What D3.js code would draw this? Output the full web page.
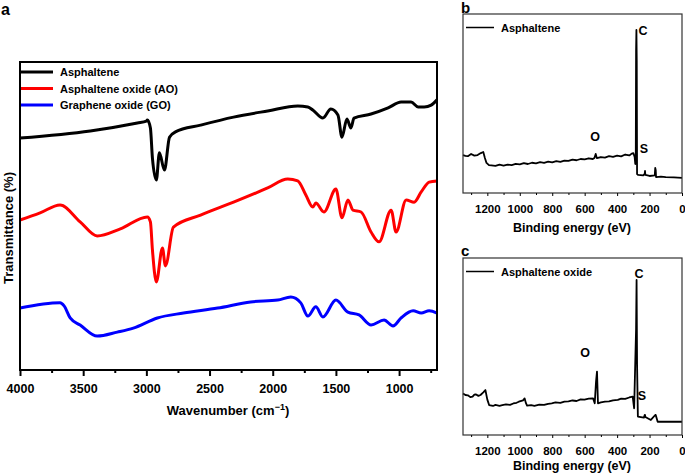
<!DOCTYPE html>
<html><head><meta charset="utf-8">
<script src="https://cdn.jsdelivr.net/npm/d3@7"></script>
<style>
body{margin:0;background:#fff;}
text{font-family:"Liberation Sans",Arial,Helvetica,sans-serif;font-weight:bold;fill:#000;}
</style></head>
<body><svg id="c" width="685" height="473"></svg>
<script>
// ---------- Panel a: FTIR ----------
const ftirSeries = ["Asphaltene", "Asphaltene oxide (AO)", "Graphene oxide (GO)"];
const ftirColors = ["#000000", "#ff0000", "#0000ff"];
const asphWn = [4000,3444,3071,3000,2992,2968,2952,2921,2897,2857,2817,2770,2571,2310,2040,1802,1722,1683,1603,1540,1484,1452,1413,1381,1357,1222,1087,984,905,849,801,746,700];
const asphT  = [75.3,77.6,80.2,80.8,81.2,78.6,68.8,61.7,70.5,64.9,75.6,77.3,79.5,82.1,84.1,85.7,85.4,84.4,81.8,84.7,82.8,75.6,81.5,78.6,81.8,83.1,85.1,87.0,87.0,85.4,85.4,86.0,87.7];
const aoWn = [4000,3841,3683,3524,3389,3206,2992,2968,2952,2921,2873,2849,2786,2571,2310,2040,1881,1802,1738,1683,1659,1595,1500,1452,1405,1365,1301,1222,1159,1063,1024,944,881,825,762,700];
const aoT  = [48.7,51.0,53.6,48.1,43.5,45.8,49.7,48.1,39.0,28.6,39.6,33.8,46.4,50.3,54.5,59.1,62.0,61.4,56.8,52.9,54.2,51.3,58.8,49.4,55.2,51.9,51.3,44.8,41.6,51.9,44.8,55.2,54.5,57.8,61.0,61.4];
const goWn = [4000,3683,3651,3603,3524,3389,3230,3103,2913,2706,2436,2175,1960,1857,1778,1722,1659,1603,1500,1405,1317,1222,1119,1048,984,889,825,762,700];
const goT  = [20.1,21.8,20.8,16.9,14.6,11.0,12.3,13.6,16.9,18.5,20.1,22.1,22.7,23.7,21.8,17.5,20.5,17.2,22.7,18.8,17.9,14.6,16.2,14.3,16.9,19.2,18.5,19.2,18.5];
const ftirMajorTicks = [4000,3500,3000,2500,2000,1500,1000];
const ftirMinorTicks = [3750,3250,2750,2250,1750,1250,750];

// ---------- Panels b, c: XPS ----------
const xpsTicks = [1200,1000,800,600,400,200,0];
const xpsMinorTicks = [1300,1100,900,700,500,300,100];
const asphEV = [1350,1335,1320,1300,1280,1260,1240,1225,1215,1205,1190,1175,1150,1125,1100,1075,1050,1025,1000,975,950,925,900,875,850,825,800,775,750,725,700,675,650,625,600,575,550,540,532,525,500,475,450,425,400,375,350,325,310,300,292,288,285,283,281,279,277,270,240,230,228,226,200,168,165,162,160,130,100,50,0];
const asphI  = [21.2,20.8,20.6,21.8,20.9,21.2,22.3,22.9,19.6,16.8,15.6,15.4,15.1,15.8,15.3,15.9,15.6,16.3,16.0,16.7,16.2,16.9,16.6,17.2,16.8,17.5,17.1,17.8,17.4,18.1,17.9,18.6,18.3,19.0,18.8,19.4,19.0,19.6,21.8,19.5,20.1,19.8,20.6,20.2,20.9,20.5,21.5,21.0,22.0,22.3,20.1,16.2,17.3,79.9,91.1,74.3,10.6,10.1,9.8,10.6,12.3,10.1,9.5,9.8,14.0,12.8,8.9,9.1,8.9,8.7,8.4];
const aoEV = [1350,1335,1320,1305,1291,1280,1272,1255,1242,1225,1212,1200,1189,1165,1150,1125,1108,1085,1060,1040,1020,1006,990,980,970,962,955,930,910,880,850,825,803,780,750,725,700,675,650,625,601,575,548,538,530,524,518,500,475,450,425,396,375,350,325,304,295,283,280,277,272,235,230,228,226,192,165,162,150,100,50,0];
const aoI  = [23.5,22.6,22.4,21.4,21.7,22.8,23.0,22.1,22.6,24.1,25.4,20.0,16.9,16.4,17.0,16.5,16.9,17.3,17.0,17.8,18.2,18.8,19.3,19.6,20.7,18.0,16.6,16.9,16.5,17.2,17.0,17.6,17.9,18.4,18.2,18.9,19.0,19.5,19.2,20.1,20.0,20.6,20.7,17.9,30.0,35.8,17.9,18.4,18.8,19.0,19.6,19.8,20.5,20.4,21.2,21.7,15.1,60.0,87.6,40.0,10.4,9.8,11.3,11.3,10.2,8.5,11.3,11.3,7.5,7.5,7.5,7.5];
const peakLabels = {b:[["C",643,30],["O",595,136],["S",644,148]], c:[["C",639,273],["O",585,352],["S",642,395]]};

const svg = d3.select("#c");

// Panel a
const xa = d3.scaleLinear().domain([4000,700]).range([20,437]);
const ya = d3.scaleLinear().domain([0,100]).range([370,62]);
const ga = svg.append("g");
const lineA = d3.line().x(d=>xa(d[0])).y(d=>ya(d[1])).curve(d3.curveMonotoneX);
[[asphWn,asphT],[aoWn,aoT],[goWn,goT]].forEach((s,i)=>{
  ga.append("path").datum(d3.zip(s[0],s[1])).attr("d",lineA)
    .attr("fill","none").attr("stroke",ftirColors[i]).attr("stroke-width",3).attr("stroke-linejoin","round");
});
ga.append("rect").attr("x",20).attr("y",62).attr("width",417).attr("height",308)
  .attr("fill","none").attr("stroke","#000").attr("stroke-width",2);
const axA = ga.append("g").attr("transform","translate(0,370)")
  .call(d3.axisBottom(xa).tickValues(ftirMajorTicks).tickSize(6).tickPadding(8).tickFormat(d3.format("d")));
axA.select(".domain").remove();
axA.selectAll("line").attr("stroke-width",2);
axA.selectAll("text").attr("font-size","12.5px").style("font-family","Liberation Sans, Arial").style("font-weight","bold");
const axAm = ga.append("g").attr("transform","translate(0,370)")
  .call(d3.axisBottom(xa).tickValues(ftirMinorTicks).tickSize(3).tickFormat(""));
axAm.select(".domain").remove();
axAm.selectAll("line").attr("stroke-width",2);
ga.append("text").attr("x",228).attr("y",415).attr("text-anchor","middle").attr("font-size","13px")
  .html('Wavenumber (cm<tspan dy="-5" font-size="9px">−1</tspan><tspan dy="5">)</tspan>');
ga.append("text").attr("transform","translate(13,228) rotate(-90)").attr("text-anchor","middle").attr("font-size","13px").text("Transmittance (%)");
ga.append("text").attr("x",1).attr("y",15).attr("font-size","16px").text("a");
ftirSeries.forEach((n,i)=>{
  const yy = 72 + i*16.5;
  ga.append("line").attr("x1",21).attr("x2",53).attr("y1",yy).attr("y2",yy).attr("stroke",ftirColors[i]).attr("stroke-width",3);
  ga.append("text").attr("x",60).attr("y",yy+4).attr("font-size","11px").text(n);
});

// Panels b, c
function xpsPanel(top, bottom, ev, inten, name, letter, labels, letterY, titleY){
  const x = d3.scaleLinear().domain([1350,0]).range([463,682]);
  const y = d3.scaleLinear().domain([0,100]).range([bottom,top]);
  const g = svg.append("g");
  g.append("path").datum(d3.zip(ev,inten))
    .attr("d", d3.line().x(d=>x(d[0])).y(d=>y(d[1])))
    .attr("fill","none").attr("stroke","#000").attr("stroke-width",1.8).attr("stroke-linejoin","round");
  g.append("rect").attr("x",463).attr("y",top).attr("width",219).attr("height",bottom-top)
    .attr("fill","none").attr("stroke","#333").attr("stroke-width",1.2);
  const ax = g.append("g").attr("transform",`translate(0,${bottom})`)
    .call(d3.axisBottom(x).tickValues(xpsTicks).tickSize(3).tickPadding(9).tickFormat(d3.format("d")));
  ax.select(".domain").remove();
  ax.selectAll("text").attr("font-size","11.5px").style("font-family","Liberation Sans, Arial").style("font-weight","bold");
  const axm = g.append("g").attr("transform",`translate(0,${bottom})`)
    .call(d3.axisBottom(x).tickValues(xpsMinorTicks).tickSize(2).tickFormat(""));
  axm.select(".domain").remove();
  g.append("text").attr("x",572).attr("y",titleY).attr("text-anchor","middle").attr("font-size","12.5px").text("Binding energy (eV)");
  g.append("text").attr("x",461).attr("y",letterY).attr("font-size","15px").text(letter);
  g.append("line").attr("x1",466).attr("x2",494).attr("y1",top+13.5).attr("y2",top+13.5).attr("stroke","#000").attr("stroke-width",1.5);
  g.append("text").attr("x",501).attr("y",top+17.5).attr("font-size","11px").text(name);
  labels.forEach(l=>{
    g.append("text").attr("x",l[1]).attr("y",l[2]+4.5).attr("text-anchor","middle").attr("font-size","12.5px").text(l[0]);
  });
}
xpsPanel(14,193,asphEV,asphI,"Asphaltene","b",peakLabels.b,13,232);
xpsPanel(258,435,aoEV,aoI,"Asphaltene oxide","c",peakLabels.c,256,470);
</script></body></html>
